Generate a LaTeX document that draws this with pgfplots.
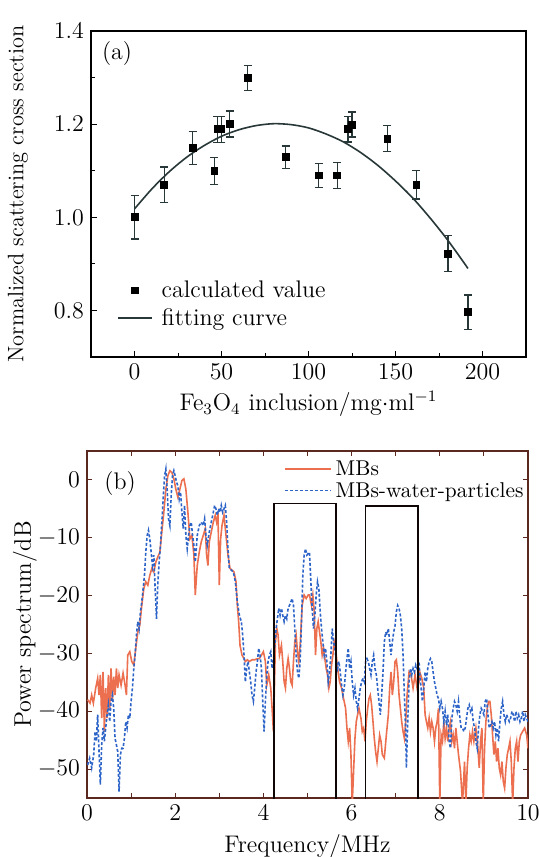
\documentclass[border=0pt]{standalone}
\usepackage{pgfplots}
\pgfplotsset{compat=1.18}
\usepackage{pgfplotstable}

\definecolor{mbred}{RGB}{236,112,80}
\definecolor{mbblue}{RGB}{45,100,200}
\definecolor{fitcol}{RGB}{40,55,55}
\definecolor{framecol}{RGB}{90,40,30}

% panel (a): x, y, error
\pgfplotstableread{
x      y      e
0      1.000  0.047
17.1   1.070  0.038
33.4   1.149  0.035
45.9   1.100  0.029
47.6   1.189  0.028
49.9   1.189  0.028
54.7   1.200  0.028
65.1   1.299  0.027
86.8   1.129  0.024
105.8  1.090  0.026
116.5  1.090  0.028
122.8  1.189  0.027
125.1  1.199  0.027
145.3  1.169  0.028
162.0  1.070  0.031
180.2  0.922  0.039
191.6  0.796  0.037
}\calcdata

\pgfplotstableread{
x      y
0      1.018
10     1.061
20     1.098
30     1.129
40     1.154
50     1.174
60     1.188
70     1.197
80     1.201
90     1.199
100    1.192
110    1.179
120    1.162
130    1.139
140    1.111
150    1.078
160    1.041
170    0.998
180    0.951
190    0.899
191.6  0.890
}\fitdata

% panel (b): MBs
\pgfplotstableread{
f      p
0.015 -38.0
0.068 -38.6
0.106 -37.2
0.144 -38.6
0.197 -36.0
0.242 -34.3
0.273 -37.2
0.303 -33.7
0.333 -41.2
0.364 -33.2
0.394 -43.5
0.424 -36.0
0.455 -41.2
0.485 -33.7
0.515 -39.5
0.545 -32.6
0.576 -38.3
0.606 -34.0
0.636 -37.2
0.667 -32.6
0.697 -36.0
0.727 -33.7
0.773 -35.5
0.818 -33.4
0.864 -35.5
0.894 -37.2
0.924 -30.3
0.970 -29.7
1.015 -31.4
1.061 -32.0
1.106 -29.1
1.152 -26.3
1.197 -25.1
1.242 -21.7
1.288 -18.8
1.333 -17.6
1.379 -18.2
1.424 -16.5
1.470 -15.3
1.515 -15.9
1.561 -14.2
1.606 -13.3
1.652 -12.5
1.697 -9.0
1.742 -5.6
1.788 -1.6
1.833 0.7
1.879 1.6
1.924 1.3
1.970 0.2
2.015 -1.6
2.061 -3.0
2.106 -1.6
2.152 -0.1
2.197 0.2
2.242 -1.6
2.288 -5.6
2.333 -10.2
2.379 -9.6
2.424 -13.0
2.455 -19.9
2.500 -14.8
2.545 -12.5
2.591 -10.7
2.636 -9.6
2.682 -8.4
2.712 -13.0
2.742 -14.8
2.773 -10.7
2.818 -9.0
2.864 -7.3
2.909 -6.1
2.939 -7.3
2.970 -6.1
3.000 -18.2
3.030 -10.2
3.061 -7.9
3.106 -6.1
3.152 -9.6
3.197 -13.0
3.242 -15.3
3.288 -15.6
3.333 -15.9
3.379 -17.6
3.409 -21.7
3.439 -24.5
3.470 -28.6
3.515 -30.3
3.561 -30.9
3.591 -31.4
3.636 -31.1
3.682 -31.4
3.742 -31.1
3.803 -31.1
3.864 -30.9
3.909 -30.9
3.955 -30.3
4.000 -29.7
4.045 -31.4
4.076 -35.5
4.121 -33.7
4.167 -36.0
4.197 -39.5
4.227 -43.5
4.273 -28.0
4.303 -25.7
4.333 -26.8
4.364 -30.3
4.409 -28.6
4.439 -31.4
4.470 -34.9
4.500 -36.0
4.530 -32.6
4.561 -30.9
4.591 -32.6
4.621 -34.9
4.652 -35.5
4.682 -31.4
4.712 -28.0
4.742 -26.8
4.773 -29.7
4.803 -31.4
4.833 -28.6
4.879 -21.7
4.924 -19.9
4.970 -20.5
5.015 -19.9
5.045 -19.9
5.091 -21.7
5.121 -19.9
5.152 -22.8
5.182 -30.3
5.212 -25.7
5.242 -24.5
5.273 -26.3
5.303 -28.0
5.333 -30.3
5.364 -29.1
5.394 -30.9
5.424 -32.6
5.455 -33.7
5.485 -36.0
5.515 -34.9
5.545 -32.0
5.576 -30.3
5.606 -28.0
5.636 -29.1
5.682 -32.6
5.727 -34.9
5.773 -36.0
5.818 -37.8
5.864 -39.5
5.894 -42.9
5.924 -45.2
5.955 -42.9
5.985 -47.5
6.015 -56.0
6.045 -50.4
6.076 -44.7
6.106 -41.8
6.136 -40.6
6.167 -39.5
6.212 -41.2
6.242 -43.5
6.273 -42.9
6.303 -45.2
6.333 -41.8
6.364 -39.5
6.394 -37.8
6.424 -37.2
6.455 -39.0
6.485 -41.8
6.515 -44.7
6.545 -47.0
6.576 -48.7
6.606 -46.4
6.636 -44.1
6.667 -45.2
6.697 -47.5
6.742 -48.1
6.788 -44.1
6.833 -40.6
6.864 -36.0
6.894 -33.2
6.924 -37.2
6.955 -34.9
6.985 -31.4
7.015 -31.1
7.045 -33.2
7.076 -37.2
7.106 -39.5
7.136 -41.8
7.167 -43.5
7.197 -44.7
7.227 -41.8
7.258 -37.2
7.303 -33.2
7.348 -33.7
7.394 -36.0
7.439 -33.7
7.485 -36.0
7.530 -34.9
7.545 -33.2
7.591 -34.3
7.636 -36.0
7.667 -40.6
7.697 -41.8
7.727 -42.9
7.758 -41.2
7.788 -43.5
7.818 -41.8
7.848 -42.9
7.879 -45.2
7.909 -42.9
7.939 -41.8
7.970 -39.5
8.000 -56.0
8.030 -44.1
8.061 -45.2
8.091 -41.8
8.121 -44.7
8.152 -42.9
8.182 -45.2
8.212 -42.9
8.242 -41.8
8.273 -45.2
8.303 -44.1
8.333 -46.4
8.364 -42.9
8.394 -45.2
8.424 -47.5
8.470 -50.4
8.515 -56.0
8.561 -48.7
8.591 -56.0
8.621 -49.8
8.652 -46.4
8.682 -44.1
8.712 -45.2
8.742 -43.5
8.773 -45.2
8.818 -42.9
8.864 -46.4
8.894 -49.8
8.924 -45.2
8.955 -42.9
8.985 -56.0
9.015 -46.4
9.045 -41.8
9.076 -39.5
9.106 -38.3
9.136 -38.3
9.167 -40.6
9.197 -44.1
9.227 -47.5
9.258 -45.2
9.288 -48.7
9.318 -46.4
9.348 -49.8
9.379 -51.0
9.409 -48.7
9.439 -52.1
9.470 -53.3
9.500 -49.8
9.530 -47.5
9.561 -46.4
9.591 -45.2
9.621 -48.7
9.652 -56.0
9.682 -49.8
9.712 -46.4
9.742 -45.2
9.773 -48.7
9.803 -45.2
9.833 -44.1
9.879 -43.5
9.924 -42.9
9.970 -44.1
10.000 -46.4
}\mbs

% panel (b): MBs-water-particles
\pgfplotstableread{
f      p
0.015 -49.3
0.061 -48.1
0.106 -49.8
0.152 -47.5
0.182 -43.5
0.212 -45.2
0.242 -40.6
0.273 -47.0
0.303 -52.7
0.333 -45.8
0.364 -42.9
0.394 -45.2
0.424 -42.9
0.455 -40.6
0.485 -38.9
0.515 -41.8
0.545 -38.3
0.576 -37.2
0.606 -39.5
0.636 -44.7
0.667 -45.8
0.697 -47.0
0.727 -53.9
0.758 -47.5
0.788 -46.4
0.818 -46.4
0.848 -44.7
0.879 -41.8
0.909 -42.9
0.939 -40.6
0.970 -41.2
1.000 -38.3
1.030 -36.0
1.061 -32.6
1.091 -30.3
1.121 -26.8
1.152 -24.5
1.182 -25.7
1.212 -22.8
1.242 -21.1
1.273 -18.8
1.303 -16.5
1.333 -12.5
1.364 -9.6
1.394 -8.7
1.424 -10.2
1.455 -12.5
1.485 -14.8
1.515 -13.0
1.545 -18.8
1.576 -24.0
1.606 -17.9
1.636 -14.2
1.667 -11.3
1.697 -7.3
1.727 -3.3
1.758 0.7
1.788 1.9
1.818 -1.6
1.848 -6.7
1.879 -7.9
1.909 -2.7
1.939 0.7
1.970 1.6
2.000 0.7
2.030 -0.4
2.061 -1.0
2.091 -3.3
2.121 -2.1
2.152 -5.6
2.182 -8.4
2.212 -4.4
2.242 -9.6
2.273 -11.9
2.303 -9.6
2.333 -7.9
2.364 -7.3
2.394 -9.6
2.424 -11.3
2.455 -14.2
2.500 -9.6
2.545 -7.9
2.591 -7.3
2.636 -7.9
2.667 -6.7
2.697 -9.6
2.727 -11.3
2.773 -9.0
2.818 -7.3
2.864 -5.6
2.894 -4.4
2.924 -5.0
2.955 -6.1
2.985 -5.0
3.015 -5.6
3.045 -4.4
3.076 -5.6
3.106 -5.0
3.136 -4.4
3.167 -7.3
3.197 -11.9
3.227 -15.3
3.273 -15.6
3.318 -15.9
3.364 -17.6
3.409 -21.1
3.455 -23.4
3.500 -24.5
3.530 -26.8
3.561 -30.3
3.591 -34.9
3.621 -32.6
3.652 -31.4
3.682 -33.2
3.712 -34.9
3.742 -37.2
3.773 -38.3
3.803 -36.0
3.833 -33.2
3.864 -31.4
3.894 -29.1
3.924 -30.3
3.955 -32.6
3.985 -38.3
4.015 -43.5
4.045 -38.3
4.076 -33.7
4.106 -31.4
4.136 -30.3
4.167 -29.7
4.197 -32.6
4.227 -31.4
4.258 -28.6
4.288 -25.7
4.318 -24.0
4.348 -22.2
4.379 -23.4
4.409 -22.2
4.439 -23.4
4.470 -24.5
4.500 -23.4
4.530 -24.0
4.561 -22.2
4.591 -21.7
4.621 -21.1
4.652 -20.5
4.682 -21.7
4.712 -25.7
4.742 -30.3
4.773 -33.2
4.803 -34.3
4.833 -31.4
4.864 -24.5
4.894 -16.5
4.924 -13.0
4.955 -11.9
4.985 -13.0
5.045 -12.5
5.076 -17.6
5.106 -22.2
5.136 -25.7
5.167 -23.4
5.197 -19.9
5.227 -17.6
5.258 -18.8
5.288 -22.8
5.318 -25.7
5.348 -28.0
5.379 -30.3
5.409 -29.1
5.439 -31.4
5.470 -34.9
5.500 -33.2
5.530 -30.3
5.561 -25.7
5.591 -28.0
5.621 -29.1
5.652 -31.4
5.682 -32.6
5.712 -31.4
5.742 -33.2
5.773 -35.5
5.803 -37.2
5.833 -36.0
5.864 -33.2
5.894 -30.9
5.924 -29.1
5.955 -32.6
5.985 -31.4
6.015 -34.9
6.045 -37.2
6.076 -36.0
6.106 -38.3
6.136 -39.5
6.167 -37.8
6.197 -36.0
6.227 -34.9
6.258 -34.3
6.288 -34.9
6.318 -31.4
6.348 -30.9
6.379 -31.4
6.409 -32.6
6.439 -33.7
6.470 -31.4
6.500 -30.3
6.530 -32.6
6.561 -33.7
6.591 -36.0
6.621 -38.3
6.652 -40.6
6.682 -37.2
6.712 -33.2
6.742 -28.0
6.773 -26.3
6.803 -26.8
6.833 -25.7
6.864 -28.0
6.894 -30.3
6.924 -28.0
6.955 -26.3
6.985 -25.2
7.015 -22.8
7.045 -21.7
7.076 -22.2
7.106 -23.4
7.136 -25.7
7.167 -30.3
7.197 -37.2
7.227 -43.5
7.242 -49.8
7.273 -41.8
7.303 -34.9
7.333 -32.6
7.364 -33.7
7.394 -32.6
7.424 -33.2
7.455 -32.0
7.485 -32.6
7.530 -31.4
7.545 -33.7
7.576 -36.0
7.606 -38.3
7.636 -36.0
7.667 -33.2
7.697 -34.9
7.727 -32.6
7.758 -31.4
7.788 -30.9
7.818 -31.4
7.848 -33.2
7.879 -34.9
7.909 -36.0
7.939 -37.2
7.970 -37.8
8.000 -39.5
8.030 -38.3
8.061 -39.5
8.091 -41.8
8.121 -40.0
8.152 -42.4
8.182 -40.6
8.212 -45.2
8.242 -46.4
8.273 -41.2
8.303 -39.5
8.333 -38.3
8.364 -38.9
8.394 -40.0
8.424 -38.3
8.455 -41.2
8.485 -42.9
8.515 -42.9
8.545 -43.5
8.576 -42.9
8.606 -41.2
8.636 -39.5
8.667 -38.9
8.697 -40.0
8.727 -39.5
8.758 -41.8
8.788 -42.9
8.818 -45.2
8.848 -46.4
8.879 -42.9
8.909 -40.6
8.939 -39.5
8.970 -40.0
9.000 -40.6
9.030 -38.3
9.061 -37.8
9.091 -40.6
9.121 -42.9
9.152 -42.4
9.182 -41.8
9.212 -42.9
9.242 -41.8
9.273 -44.1
9.303 -42.9
9.333 -45.2
9.364 -41.8
9.394 -39.5
9.424 -38.3
9.455 -40.6
9.485 -41.8
9.515 -40.6
9.545 -41.2
9.576 -41.8
9.606 -41.2
9.636 -40.0
9.667 -40.6
9.697 -41.8
9.727 -40.0
9.758 -41.2
9.788 -40.6
9.818 -41.8
9.848 -41.2
9.879 -40.0
9.909 -41.8
9.939 -40.6
9.970 -41.2
10.000 -41.8
}\mbswater

\begin{document}
\begin{tikzpicture}
\useasboundingbox (0,0) rectangle (269.5pt,-428.5pt);

% ---- (a) ----
\begin{axis}[
  at={(45.5pt,-178.5pt)}, anchor=south west,
  scale only axis, width=217.5pt, height=163pt,
  xmin=-25, xmax=225, ymin=0.7, ymax=1.4,
  xtick={0,50,100,150,200},
  ytick={0.8,1.0,1.2,1.4},
  minor x tick num=1, minor y tick num=1,
  tick pos=left, tick align=inside,
  major tick length=3pt, minor tick length=2pt,
  tick label style={font=\fontsize{11.5}{13}\selectfont},
  yticklabel style={/pgf/number format/.cd,fixed,fixed zerofill,precision=1},
  axis line style={line width=0.8pt},
  every tick/.style={black, line width=0.5pt},
  xlabel={Fe$_3$O$_4$ inclusion/mg$\cdot$ml$^{-1}$},
  ylabel={Normalized scattering cross section},
  xlabel style={font=\large, at={(axis description cs:0.5,0)}, anchor=center, yshift=-23.5pt},
  ylabel style={font=\fontsize{11.2}{13}\selectfont, at={(axis description cs:-0.168,0.5)}, anchor=center},
  legend style={at={(0.045,0.26)}, anchor=north west, draw=none, fill=none,
    font=\large, column sep=2.5pt},
  legend cell align=left,
]
\addplot[only marks, mark=square*, mark size=1.7pt, black,
  error bars/.cd, y dir=both, y explicit,
  error bar style={fitcol, line width=0.7pt},
  error mark options={rotate=90, mark size=2pt, fitcol, line width=0.7pt}]
  table[x=x, y=y, y error=e] {\calcdata};
\addlegendentry{calculated value}
\addplot[fitcol, line width=0.8pt, smooth] table[x=x, y=y] {\fitdata};
\addlegendentry{fitting curve}
\node[anchor=center, font=\large] at (rel axis cs:0.06,0.93) {(a)};
\end{axis}

% ---- (b) ----
\begin{axis}[
  at={(43.5pt,-399pt)}, anchor=south west,
  scale only axis, width=220.5pt, height=173.5pt,
  xmin=0, xmax=10, ymin=-55, ymax=5,
  xtick={0,2,4,6,8,10}, minor x tick num=1,
  ytick={-50,-40,-30,-20,-10,0},
  tick align=inside,
  major tick length=2.5pt, minor tick length=2.5pt,
  tick label style={font=\fontsize{11.5}{13}\selectfont},
  axis line style={framecol, line width=0.8pt},
  every tick/.style={framecol, line width=0.5pt},
  xlabel={Frequency/MHz},
  ylabel={Power spectrum/dB},
  xlabel style={font=\large, at={(axis description cs:0.5,0)}, anchor=center, yshift=-24pt},
  ylabel style={font=\large, at={(axis description cs:-0.141,0.5)}, anchor=center},
  legend style={at={(1,0.985)}, anchor=north east, draw=none, fill=none,
    font=\fontsize{10.7}{12}\selectfont, row sep=-2pt, inner sep=0pt},
  legend cell align=left,
  legend image code/.code={\draw[#1, line width=0.9pt] (0cm,0.3pt) -- (0.8cm,0.3pt);},
]
\addplot[mbred, line width=0.8pt] table[x=f, y=p] {\mbs};
\addlegendentry{MBs}
\addplot[mbblue, line width=0.8pt, dash pattern=on 1.5pt off 1pt] table[x=f, y=p] {\mbswater};
\addlegendentry{MBs-water-particles}
\addplot[black!85!framecol, line width=0.7pt, forget plot] coordinates {(4.24,-56) (4.24,-4.1) (5.65,-4.1) (5.65,-56)};
\addplot[black!85!framecol, line width=0.7pt, forget plot] coordinates {(6.32,-56) (6.32,-4.5) (7.51,-4.5) (7.51,-56)};
\node[anchor=center, font=\large] at (rel axis cs:0.075,0.905) {(b)};
\end{axis}
\end{tikzpicture}
\end{document}
